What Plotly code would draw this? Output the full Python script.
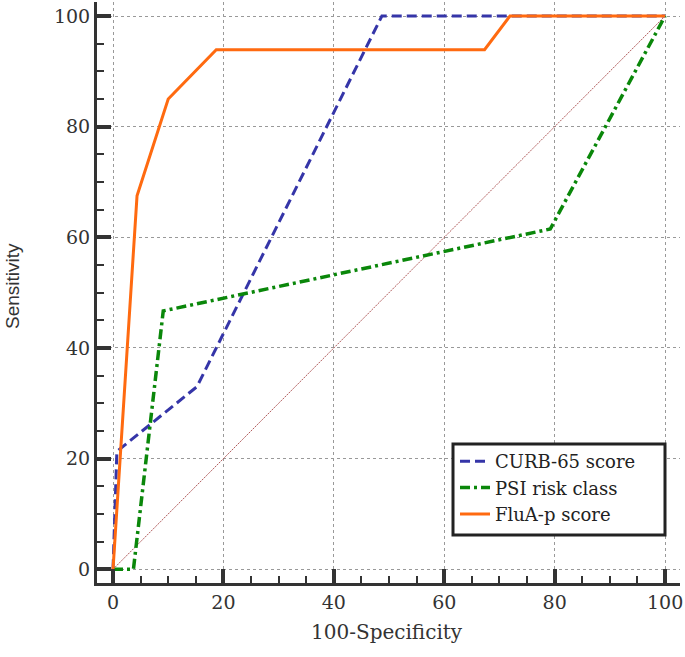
import plotly.graph_objects as go

# Data (100-Specificity, Sensitivity)
curb_x = [0, 0.7, 15.2, 48.7, 100]
curb_y = [0, 21.3, 33.0, 100, 100]

psi_x = [0, 3.7, 9.1, 79.2, 100]
psi_y = [0, 0, 46.7, 61.5, 100]

flua_x = [0, 4.35, 10.0, 18.7, 67.3, 71.9, 100]
flua_y = [0, 67.5, 85.0, 93.9, 93.9, 100, 100]

diag_x = [0, 100]
diag_y = [0, 100]

series_names = ["CURB-65 score", "PSI risk class", "FluA-p score"]
tick_vals = [0, 20, 40, 60, 80, 100]
tick_text = ["0", "20", "40", "60", "80", "100"]
x_title = "100-Specificity"
y_title = "Sensitivity"

SERIF = "DejaVu Serif"
SANS = "Liberation Sans"

# plot area in page pixels
PL, PR, PT, PB = 97, 680, 2, 583
PW, PH = PR - PL, PB - PT


def px(x):
    return (x - PL) / PW


def py(y):
    return (PB - y) / PH


fig = go.Figure()
fig.add_trace(go.Scatter(x=diag_x, y=diag_y, mode="lines", showlegend=False,
                         line=dict(color="#b05a5a", width=1, dash="2px,1px"),
                         hoverinfo="skip"))
fig.add_trace(go.Scatter(x=curb_x, y=curb_y, mode="lines", name=series_names[0],
                         line=dict(color="#3535a8", width=3, dash="10px,5px")))
fig.add_trace(go.Scatter(x=psi_x, y=psi_y, mode="lines", name=series_names[1],
                         line=dict(color="#0a870a", width=3.5, dash="10px,4px,3px,4px")))
fig.add_trace(go.Scatter(x=flua_x, y=flua_y, mode="lines", name=series_names[2],
                         line=dict(color="#ff6a10", width=3)))

tickfont = dict(family=SERIF, size=19, color="#333333")
axis_common = dict(
    showline=True, linewidth=3, linecolor="#333333",
    ticks="inside", ticklen=14, tickwidth=3.5, tickcolor="#333333",
    minor=dict(ticks="inside", ticklen=7, tickwidth=2, tickcolor="#333333", dtick=5, showgrid=False),
    tickvals=tick_vals, ticktext=tick_text, ticklabeloverflow="allow",
    showgrid=True, gridcolor="#999999", gridwidth=1, griddash="dot",
    zeroline=False, tickfont=tickfont, mirror=False, automargin=False,
)

fig.update_xaxes(range=[-2.9, 102.7], **axis_common)
fig.update_yaxes(range=[-2.48, 102.53], **axis_common)

fig.add_annotation(text=x_title, xref="paper", yref="paper",
                   x=px(387), y=py(632),
                   xanchor="center", yanchor="middle", showarrow=False,
                   font=dict(family=SERIF, size=20, color="#333333"))
fig.add_annotation(text=y_title, xref="paper", yref="paper",
                   x=px(12), y=py(286),
                   xanchor="center", yanchor="middle", showarrow=False, textangle=-90,
                   font=dict(family=SANS, size=19, color="#333333"))

# legend frame
fig.add_shape(type="rect", xref="paper", yref="paper",
              x0=px(453), x1=px(665), y0=py(535), y1=py(444),
              line=dict(color="#222222", width=3), fillcolor="white", layer="above")

fig.update_layout(
    width=685, height=657,
    margin=dict(l=PL, r=685 - PR, t=PT, b=657 - PB),
    plot_bgcolor="white", paper_bgcolor="white",
    legend=dict(x=px(455), y=py(443), xanchor="left", yanchor="top",
                borderwidth=0, bgcolor="rgba(0,0,0,0)",
                font=dict(family=SERIF, size=18, color="#222222"),
                tracegroupgap=0),
    showlegend=True,
)

# remove the default 8px page margin so the 685x657 figure fills the window
fig.write_html("out.html", config={"displayModeBar": False},
               post_script="document.body.style.margin='0';document.body.style.overflow='hidden';")
